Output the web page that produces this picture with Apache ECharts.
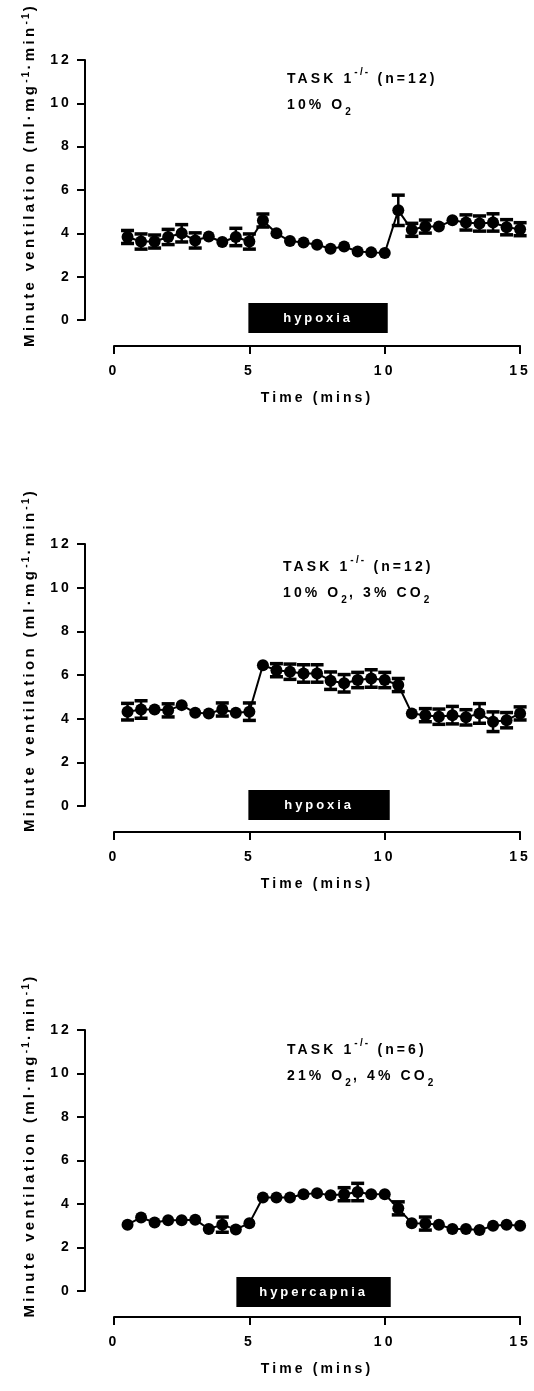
<!DOCTYPE html>
<html>
<head>
<meta charset="utf-8">
<script src="https://cdn.jsdelivr.net/npm/echarts@6/dist/echarts.min.js"></script>
<style>
html,body{margin:0;padding:0;background:#fff;}
#chart{width:534px;height:1391px;}
</style>
</head>
<body>
<div id="chart"></div>
<script>
// ---------- data ----------
var timeMins = [0.5,1,1.5,2,2.5,3,3.5,4,4.5,5,5.5,6,6.5,7,7.5,8,8.5,9,9.5,10,10.5,11,11.5,12,12.5,13,13.5,14,14.5,15];

var meanHypoxia = [3.83,3.62,3.62,3.83,4.00,3.67,3.85,3.60,3.83,3.62,4.59,4.00,3.64,3.58,3.47,3.29,3.39,3.16,3.12,3.09,5.06,4.16,4.31,4.31,4.60,4.50,4.45,4.50,4.28,4.19];
var semHypoxia  = [0.30,0.35,0.30,0.35,0.40,0.35,0.15,0.15,0.40,0.35,0.30,0.10,0.10,0.10,0.10,0.10,0.10,0.10,0.10,0.10,0.70,0.30,0.30,0.25,0.20,0.35,0.35,0.40,0.35,0.30];

var meanHypoxiaCO2 = [4.32,4.42,4.42,4.38,4.62,4.27,4.24,4.42,4.27,4.32,6.45,6.22,6.15,6.07,6.07,5.74,5.62,5.77,5.84,5.77,5.54,4.24,4.16,4.09,4.16,4.06,4.24,3.86,3.93,4.24];
var semHypoxiaCO2  = [0.38,0.40,0.10,0.30,0.10,0.22,0.10,0.30,0.10,0.40,0.25,0.30,0.35,0.40,0.40,0.40,0.40,0.35,0.40,0.35,0.30,0.10,0.30,0.35,0.40,0.35,0.45,0.45,0.35,0.30];

var meanHypercapnia = [3.05,3.38,3.15,3.25,3.25,3.28,2.85,3.05,2.83,3.12,4.30,4.30,4.30,4.45,4.50,4.40,4.45,4.55,4.45,4.45,3.80,3.12,3.10,3.05,2.85,2.85,2.80,3.00,3.05,3.00];
var semHypercapnia  = [0.10,0.10,0.10,0.10,0.10,0.10,0.25,0.35,0.10,0.10,0.10,0.10,0.10,0.10,0.10,0.10,0.30,0.40,0.10,0.10,0.30,0.10,0.30,0.10,0.10,0.10,0.10,0.10,0.10,0.10];

var stimulusPeriod = [5, 10];
var stimulusLabels = ['hypoxia', 'hypoxia', 'hypercapnia'];
var panelTitles = [
  '{b|TASK 1}{sup|-/-}{b| (n=12)}\n{b|10% O}{sub|2}',
  '{b|TASK 1}{sup|-/-}{b| (n=12)}\n{b|10% O}{sub|2}{b|, 3% CO}{sub|2}',
  '{b|TASK 1}{sup|-/-}{b| (n=6)}\n{b|21% O}{sub|2}{b|, 4% CO}{sub|2}'
];
var yTitle = '{b|Minute ventilation (ml·mg}{sup|-1}{b|·min}{sup|-1}{b|)}';
var xTitle = 'Time (mins)';
var xTicks = {min: 0, max: 15, interval: 5};
var yTicks = {min: 0, max: 12, interval: 2};

// ---------- letter spacing (typography of the original) ----------
(function(){
  var proto = CanvasRenderingContext2D.prototype;
  var d = Object.getOwnPropertyDescriptor(proto, 'font');
  if (d && ('letterSpacing' in proto)) {
    Object.defineProperty(proto, 'font', {
      configurable: true,
      get: function(){ return d.get.call(this); },
      set: function(v){
        d.set.call(this, v);
        var m = /(\d+(?:\.\d+)?)px/.exec(v);
        var s = m ? parseFloat(m[1]) * 0.22 : 0;
        try { this.letterSpacing = s.toFixed(1) + 'px'; } catch(e) {}
      }
    });
  }
})();

// ---------- chart ----------
var FONT = '"Liberation Sans", Arial, sans-serif';
var panels = [
  {mean: meanHypoxia, sem: semHypoxia, top: 59, height: 261, titleLeft: 287, titleTop: 66, boxPad: [1, 3], boxTop: -17},
  {mean: meanHypoxiaCO2, sem: semHypoxiaCO2, top: 544, height: 262, titleLeft: 283, titleTop: 554, boxPad: [1, 5], boxTop: -16},
  {mean: meanHypercapnia, sem: semHypercapnia, top: 1030, height: 261, titleLeft: 287, titleTop: 1037, boxPad: [13, 6], boxTop: -14}
];

var richT = {
  b: {fontFamily: FONT, fontWeight: 'bold', fontSize: 14, color: '#000', lineHeight: 26, verticalAlign: 'middle'},
  sup: {fontFamily: FONT, fontWeight: 'bold', fontSize: 10, color: '#000', lineHeight: 9, verticalAlign: 'top'},
  sub: {fontFamily: FONT, fontWeight: 'bold', fontSize: 10, color: '#000', lineHeight: 16, verticalAlign: 'bottom'}
};
var richY = {
  b: {fontFamily: FONT, fontWeight: 'bold', fontSize: 15, color: '#000', lineHeight: 20, verticalAlign: 'middle'},
  sup: {fontFamily: FONT, fontWeight: 'bold', fontSize: 10, color: '#000', lineHeight: 8, verticalAlign: 'top'}
};

var grid = [], xAxis = [], yAxis = [], series = [], title = [];

panels.forEach(function(p, i){
  grid.push({left: 114, width: 408, top: p.top, height: p.height, containLabel: false});
  xAxis.push({
    type: 'value', gridIndex: i, min: xTicks.min, max: xTicks.max, interval: xTicks.interval,
    offset: 26, position: 'bottom',
    axisLine: {show: true, onZero: false, lineStyle: {color: '#000', width: 2}},
    axisTick: {show: true, inside: false, length: 8, lineStyle: {color: '#000', width: 2}},
    splitLine: {show: false},
    axisLabel: {color: '#000', fontFamily: FONT, fontWeight: 'bold', fontSize: 14, margin: 17},
    name: xTitle, nameLocation: 'middle', nameGap: 44,
    nameTextStyle: {color: '#000', fontFamily: FONT, fontWeight: 'bold', fontSize: 14}
  });
  yAxis.push({
    type: 'value', gridIndex: i, min: yTicks.min, max: yTicks.max, interval: yTicks.interval,
    offset: 29, position: 'left',
    axisLine: {show: true, onZero: false, lineStyle: {color: '#000', width: 2}},
    axisTick: {show: true, inside: false, length: 8, lineStyle: {color: '#000', width: 2}},
    splitLine: {show: false},
    axisLabel: {color: '#000', fontFamily: FONT, fontWeight: 'bold', fontSize: 14, margin: 13},
    name: yTitle, nameLocation: 'middle', nameRotate: 90, nameGap: 42,
    nameTextStyle: {rich: richY, padding: [0, 0, 0, 30]}
  });
  title.push({
    text: panelTitles[i], left: p.titleLeft, top: p.titleTop, padding: 0,
    textStyle: {rich: richT}
  });

  var errData = timeMins.map(function(t, k){ return [t, p.mean[k], p.sem[k]]; });
  var lineData = timeMins.map(function(t, k){ return [t, p.mean[k]]; });

  series.push({
    type: 'custom', xAxisIndex: i, yAxisIndex: i, z: 2, silent: true,
    data: errData,
    renderItem: function(params, api){
      var x = api.value(0), m = api.value(1), e = api.value(2);
      var c = api.coord([x, m]);
      var t = api.coord([x, m + e]);
      var b = api.coord([x, m - e]);
      if (c[1] - t[1] < 6) return null;
      var hw = 6.5;
      return {type: 'group', children: [
        {type: 'line', shape: {x1: c[0], y1: t[1], x2: c[0], y2: b[1]}, style: {stroke: '#000', lineWidth: 2.5}},
        {type: 'line', shape: {x1: c[0] - hw, y1: t[1], x2: c[0] + hw, y2: t[1]}, style: {stroke: '#000', lineWidth: 3.5}},
        {type: 'line', shape: {x1: c[0] - hw, y1: b[1], x2: c[0] + hw, y2: b[1]}, style: {stroke: '#000', lineWidth: 3.5}}
      ]};
    }
  });
  series.push({
    type: 'line', xAxisIndex: i, yAxisIndex: i, z: 3, silent: true,
    data: lineData, symbol: 'circle', symbolSize: 12, showSymbol: true,
    itemStyle: {color: '#000'}, lineStyle: {color: '#000', width: 2}
  });
  series.push({
    type: 'custom', xAxisIndex: i, yAxisIndex: i, z: 4, silent: true, clip: false,
    data: [[stimulusPeriod[0], stimulusPeriod[1]]],
    renderItem: (function(p, label){
      return function(params, api){
        var a = api.coord([api.value(0), 0]);
        var b = api.coord([api.value(1), 0]);
        var x0 = a[0] - p.boxPad[0], x1 = b[0] + p.boxPad[1];
        var cx = (x0 + x1) / 2;
        return {type: 'group', children: [
          {type: 'rect', shape: {x: x0, y: a[1] + p.boxTop, width: x1 - x0, height: 30}, style: {fill: '#000'}},
          {type: 'text', style: {text: label, x: cx, y: a[1] + p.boxTop + 15, align: 'center', verticalAlign: 'middle',
            fill: '#fff', fontFamily: FONT, fontWeight: 'bold', fontSize: 13}}
        ]};
      };
    })(p, stimulusLabels[i])
  });
});

var chart = echarts.init(document.getElementById('chart'), null, {renderer: 'canvas'});
chart.setOption({
  animation: false,
  backgroundColor: '#fff',
  title: title,
  grid: grid,
  xAxis: xAxis,
  yAxis: yAxis,
  series: series
});
</script>
</body>
</html>
